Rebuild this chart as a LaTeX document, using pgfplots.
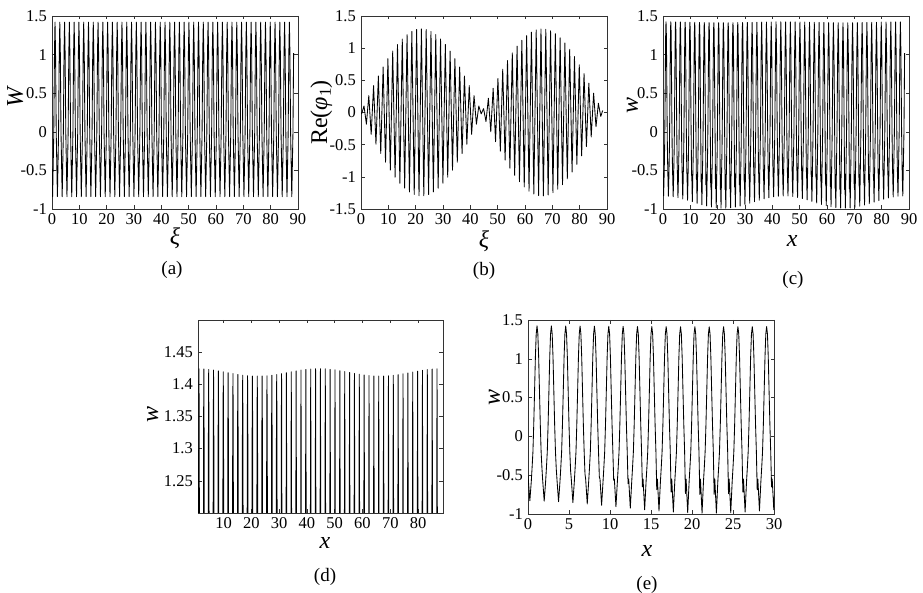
\documentclass[border=0pt]{standalone}
\usepackage{fontspec}
\setmainfont{Liberation Serif}
\usepackage{pgfplots}
\usepackage{pgfplotstable}
\pgfplotsset{compat=1.18}

\newcommand\ticksize{\fontsize{16.5bp}{18bp}\selectfont}
\newcommand\labsize{\fontsize{24bp}{26bp}\selectfont}
\newcommand\capsize{\fontsize{19bp}{21bp}\selectfont}

% Unperturbed periodic wave W(xi)
\pgfplotstableread[row sep=\\]{
x y\\
0 -0.48\\ 0.225 -0.84\\ 0.65 -0.02\\ 0.9 1.02\\
1.1 1.42\\ 1.3 1.02\\ 1.55 -0.02\\ 1.975 -0.84\\ 2.4 -0.02\\ 2.65 1.02\\
2.85 1.42\\ 3.05 1.02\\ 3.3 -0.02\\ 3.725 -0.84\\ 4.15 -0.02\\ 4.4 1.02\\
4.6 1.42\\ 4.8 1.02\\ 5.05 -0.02\\ 5.475 -0.84\\ 5.9 -0.02\\ 6.15 1.02\\
6.35 1.42\\ 6.55 1.02\\ 6.8 -0.02\\ 7.225 -0.84\\ 7.65 -0.02\\ 7.9 1.02\\
8.1 1.42\\ 8.3 1.02\\ 8.55 -0.02\\ 8.975 -0.84\\ 9.4 -0.02\\ 9.65 1.02\\
9.85 1.42\\ 10.05 1.02\\ 10.3 -0.02\\ 10.725 -0.84\\ 11.15 -0.02\\ 11.4 1.02\\
11.6 1.42\\ 11.8 1.02\\ 12.05 -0.02\\ 12.475 -0.84\\ 12.9 -0.02\\ 13.15 1.02\\
13.35 1.42\\ 13.55 1.02\\ 13.8 -0.02\\ 14.225 -0.84\\ 14.65 -0.02\\ 14.9 1.02\\
15.1 1.42\\ 15.3 1.02\\ 15.55 -0.02\\ 15.975 -0.84\\ 16.4 -0.02\\ 16.65 1.02\\
16.85 1.42\\ 17.05 1.02\\ 17.3 -0.02\\ 17.725 -0.84\\ 18.15 -0.02\\ 18.4 1.02\\
18.6 1.42\\ 18.8 1.02\\ 19.05 -0.02\\ 19.475 -0.84\\ 19.9 -0.02\\ 20.15 1.02\\
20.35 1.42\\ 20.55 1.02\\ 20.8 -0.02\\ 21.225 -0.84\\ 21.65 -0.02\\ 21.9 1.02\\
22.1 1.42\\ 22.3 1.02\\ 22.55 -0.02\\ 22.975 -0.84\\ 23.4 -0.02\\ 23.65 1.02\\
23.85 1.42\\ 24.05 1.02\\ 24.3 -0.02\\ 24.725 -0.84\\ 25.15 -0.02\\ 25.4 1.02\\
25.6 1.42\\ 25.8 1.02\\ 26.05 -0.02\\ 26.475 -0.84\\ 26.9 -0.02\\ 27.15 1.02\\
27.35 1.42\\ 27.55 1.02\\ 27.8 -0.02\\ 28.225 -0.84\\ 28.65 -0.02\\ 28.9 1.02\\
29.1 1.42\\ 29.3 1.02\\ 29.55 -0.02\\ 29.975 -0.84\\ 30.4 -0.02\\ 30.65 1.02\\
30.85 1.42\\ 31.05 1.02\\ 31.3 -0.02\\ 31.725 -0.84\\ 32.15 -0.02\\ 32.4 1.02\\
32.6 1.42\\ 32.8 1.02\\ 33.05 -0.02\\ 33.475 -0.84\\ 33.9 -0.02\\ 34.15 1.02\\
34.35 1.42\\ 34.55 1.02\\ 34.8 -0.02\\ 35.225 -0.84\\ 35.65 -0.02\\ 35.9 1.02\\
36.1 1.42\\ 36.3 1.02\\ 36.55 -0.02\\ 36.975 -0.84\\ 37.4 -0.02\\ 37.65 1.02\\
37.85 1.42\\ 38.05 1.02\\ 38.3 -0.02\\ 38.725 -0.84\\ 39.15 -0.02\\ 39.4 1.02\\
39.6 1.42\\ 39.8 1.02\\ 40.05 -0.02\\ 40.475 -0.84\\ 40.9 -0.02\\ 41.15 1.02\\
41.35 1.42\\ 41.55 1.02\\ 41.8 -0.02\\ 42.225 -0.84\\ 42.65 -0.02\\ 42.9 1.02\\
43.1 1.42\\ 43.3 1.02\\ 43.55 -0.02\\ 43.975 -0.84\\ 44.4 -0.02\\ 44.65 1.02\\
44.85 1.42\\ 45.05 1.02\\ 45.3 -0.02\\ 45.725 -0.84\\ 46.15 -0.02\\ 46.4 1.02\\
46.6 1.42\\ 46.8 1.02\\ 47.05 -0.02\\ 47.475 -0.84\\ 47.9 -0.02\\ 48.15 1.02\\
48.35 1.42\\ 48.55 1.02\\ 48.8 -0.02\\ 49.225 -0.84\\ 49.65 -0.02\\ 49.9 1.02\\
50.1 1.42\\ 50.3 1.02\\ 50.55 -0.02\\ 50.975 -0.84\\ 51.4 -0.02\\ 51.65 1.02\\
51.85 1.42\\ 52.05 1.02\\ 52.3 -0.02\\ 52.725 -0.84\\ 53.15 -0.02\\ 53.4 1.02\\
53.6 1.42\\ 53.8 1.02\\ 54.05 -0.02\\ 54.475 -0.84\\ 54.9 -0.02\\ 55.15 1.02\\
55.35 1.42\\ 55.55 1.02\\ 55.8 -0.02\\ 56.225 -0.84\\ 56.65 -0.02\\ 56.9 1.02\\
57.1 1.42\\ 57.3 1.02\\ 57.55 -0.02\\ 57.975 -0.84\\ 58.4 -0.02\\ 58.65 1.02\\
58.85 1.42\\ 59.05 1.02\\ 59.3 -0.02\\ 59.725 -0.84\\ 60.15 -0.02\\ 60.4 1.02\\
60.6 1.42\\ 60.8 1.02\\ 61.05 -0.02\\ 61.475 -0.84\\ 61.9 -0.02\\ 62.15 1.02\\
62.35 1.42\\ 62.55 1.02\\ 62.8 -0.02\\ 63.225 -0.84\\ 63.65 -0.02\\ 63.9 1.02\\
64.1 1.42\\ 64.3 1.02\\ 64.55 -0.02\\ 64.975 -0.84\\ 65.4 -0.02\\ 65.65 1.02\\
65.85 1.42\\ 66.05 1.02\\ 66.3 -0.02\\ 66.725 -0.84\\ 67.15 -0.02\\ 67.4 1.02\\
67.6 1.42\\ 67.8 1.02\\ 68.05 -0.02\\ 68.475 -0.84\\ 68.9 -0.02\\ 69.15 1.02\\
69.35 1.42\\ 69.55 1.02\\ 69.8 -0.02\\ 70.225 -0.84\\ 70.65 -0.02\\ 70.9 1.02\\
71.1 1.42\\ 71.3 1.02\\ 71.55 -0.02\\ 71.975 -0.84\\ 72.4 -0.02\\ 72.65 1.02\\
72.85 1.42\\ 73.05 1.02\\ 73.3 -0.02\\ 73.725 -0.84\\ 74.15 -0.02\\ 74.4 1.02\\
74.6 1.42\\ 74.8 1.02\\ 75.05 -0.02\\ 75.475 -0.84\\ 75.9 -0.02\\ 76.15 1.02\\
76.35 1.42\\ 76.55 1.02\\ 76.8 -0.02\\ 77.225 -0.84\\ 77.65 -0.02\\ 77.9 1.02\\
78.1 1.42\\ 78.3 1.02\\ 78.55 -0.02\\ 78.975 -0.84\\ 79.4 -0.02\\ 79.65 1.02\\
79.85 1.42\\ 80.05 1.02\\ 80.3 -0.02\\ 80.725 -0.84\\ 81.15 -0.02\\ 81.4 1.02\\
81.6 1.42\\ 81.8 1.02\\ 82.05 -0.02\\ 82.475 -0.84\\ 82.9 -0.02\\ 83.15 1.02\\
83.35 1.42\\ 83.55 1.02\\ 83.8 -0.02\\ 84.225 -0.84\\ 84.65 -0.02\\ 84.9 1.02\\
85.1 1.42\\ 85.3 1.02\\ 85.55 -0.02\\ 85.975 -0.84\\ 86.4 -0.02\\ 86.65 1.02\\
86.85 1.42\\ 87.05 1.02\\ 87.3 -0.02\\ 87.725 -0.84\\ 88.15 -0.02\\ 88.4 1.02\\
}\Wdata

% First-order correction Re(phi_1): maxima and minima of each period
\pgfplotstableread[row sep=\\]{
x y\\
0 0\\ 0.225 -0.02\\
1.1 0.102\\ 1.975 -0.182\\ 2.85 0.262\\ 3.725 -0.340\\ 4.6 0.418\\ 5.475 -0.493\\
6.35 0.567\\ 7.225 -0.638\\ 8.1 0.708\\ 8.975 -0.773\\ 9.85 0.837\\ 10.725 -0.896\\
11.6 0.955\\ 12.475 -1.006\\ 13.35 1.057\\ 14.225 -1.100\\ 15.1 1.142\\ 15.975 -1.176\\
16.85 1.210\\ 17.725 -1.235\\ 18.6 1.260\\ 19.475 -1.275\\ 20.35 1.290\\ 21.225 -1.295\\
22.1 1.300\\ 22.975 -1.295\\ 23.85 1.290\\ 24.725 -1.275\\ 25.6 1.260\\ 26.475 -1.235\\
27.35 1.210\\ 28.225 -1.177\\ 29.1 1.143\\ 29.975 -1.100\\ 30.85 1.057\\ 31.725 -1.006\\
32.6 0.955\\ 33.475 -0.897\\ 34.35 0.838\\ 35.225 -0.773\\ 36.1 0.708\\ 36.975 -0.638\\
37.85 0.567\\ 38.725 -0.493\\ 39.6 0.418\\ 40.475 -0.340\\ 41.35 0.262\\ 42.225 -0.182\\
43.1 0.101\\ 43.975 -0.021\\ 44.85 0.060\\ 45.725 -0.141\\ 46.6 0.221\\ 47.475 -0.300\\
48.35 0.378\\ 49.225 -0.454\\ 50.1 0.529\\ 50.975 -0.601\\ 51.85 0.673\\ 52.725 -0.740\\
53.6 0.806\\ 54.475 -0.866\\ 55.35 0.926\\ 56.225 -0.979\\ 57.1 1.032\\ 57.975 -1.077\\
58.85 1.122\\ 59.725 -1.159\\ 60.6 1.195\\ 61.475 -1.222\\ 62.35 1.249\\ 63.225 -1.267\\
64.1 1.284\\ 64.975 -1.292\\ 65.85 1.299\\ 66.725 -1.297\\ 67.6 1.294\\ 68.475 -1.282\\
69.35 1.269\\ 70.225 -1.247\\ 71.1 1.225\\ 71.975 -1.193\\ 72.85 1.161\\ 73.725 -1.121\\
74.6 1.080\\ 75.475 -1.031\\ 76.35 0.982\\ 77.225 -0.926\\ 78.1 0.869\\ 78.975 -0.806\\
79.85 0.743\\ 80.725 -0.674\\ 81.6 0.604\\ 82.475 -0.530\\ 83.35 0.456\\ 84.225 -0.379\\
85.1 0.301\\ 85.975 -0.222\\ 86.85 0.143\\ 87.725 -0.062\\ 88.4 0.03\\
}\Phidata

% Perturbed wave w(x): finely sampled up to x = 30.75, coarser beyond
\pgfplotstableread[row sep=\\]{
x y\\
0 -0.50\\ 0.225 -0.83\\ 0.4 -0.58\\ 0.5 -0.40\\ 0.6 -0.20\\ 0.7 0.15\\ 0.8 0.58\\ 0.9 1.02\\ 1.0 1.32\\
1.1 1.4242\\ 1.2 1.32\\ 1.3 1.02\\ 1.4 0.58\\ 1.5 0.15\\ 1.6 -0.20\\ 1.7 -0.408\\ 1.78 -0.55\\ 1.975 -0.834\\ 2.15 -0.58\\ 2.25 -0.40\\ 2.35 -0.20\\ 2.45 0.15\\ 2.55 0.58\\ 2.65 1.02\\ 2.75 1.32\\
2.85 1.4238\\ 2.95 1.32\\ 3.05 1.02\\ 3.15 0.58\\ 3.25 0.15\\ 3.35 -0.20\\ 3.45 -0.425\\ 3.53 -0.55\\ 3.725 -0.842\\ 3.9 -0.58\\ 4.0 -0.40\\ 4.1 -0.20\\ 4.2 0.15\\ 4.3 0.58\\ 4.4 1.02\\ 4.5 1.32\\
4.6 1.4231\\ 4.7 1.32\\ 4.8 1.02\\ 4.9 0.58\\ 5.0 0.15\\ 5.1 -0.20\\ 5.2 -0.451\\ 5.28 -0.55\\ 5.475 -0.853\\ 5.65 -0.58\\ 5.75 -0.40\\ 5.85 -0.20\\ 5.95 0.15\\ 6.05 0.58\\ 6.15 1.02\\ 6.25 1.32\\
6.35 1.4221\\ 6.45 1.32\\ 6.55 1.02\\ 6.65 0.58\\ 6.75 0.15\\ 6.85 -0.20\\ 6.95 -0.485\\ 7.03 -0.55\\ 7.225 -0.869\\ 7.4 -0.58\\ 7.5 -0.40\\ 7.6 -0.20\\ 7.7 0.15\\ 7.8 0.58\\ 7.9 1.02\\ 8.0 1.32\\
8.1 1.4209\\ 8.2 1.32\\ 8.3 1.02\\ 8.4 0.58\\ 8.5 0.15\\ 8.6 -0.20\\ 8.7 -0.524\\ 8.78 -0.55\\ 8.975 -0.887\\ 9.15 -0.58\\ 9.25 -0.40\\ 9.35 -0.20\\ 9.45 0.15\\ 9.55 0.58\\ 9.65 1.02\\ 9.75 1.32\\
9.85 1.4195\\ 9.95 1.32\\ 10.05 1.02\\ 10.15 0.58\\ 10.25 0.15\\ 10.35 -0.20\\ 10.45 -0.567\\ 10.53 -0.55\\ 10.725 -0.906\\ 10.9 -0.58\\ 11.0 -0.40\\ 11.1 -0.20\\ 11.2 0.15\\ 11.3 0.58\\ 11.4 1.02\\ 11.5 1.32\\
11.6 1.4180\\ 11.7 1.32\\ 11.8 1.02\\ 11.9 0.58\\ 12.0 0.15\\ 12.1 -0.20\\ 12.2 -0.610\\ 12.28 -0.55\\ 12.475 -0.926\\ 12.65 -0.58\\ 12.75 -0.40\\ 12.85 -0.20\\ 12.95 0.15\\ 13.05 0.58\\ 13.15 1.02\\ 13.25 1.32\\
13.35 1.4166\\ 13.45 1.32\\ 13.55 1.02\\ 13.65 0.58\\ 13.75 0.15\\ 13.85 -0.20\\ 13.95 -0.651\\ 14.03 -0.55\\ 14.225 -0.945\\ 14.4 -0.58\\ 14.5 -0.40\\ 14.6 -0.20\\ 14.7 0.15\\ 14.8 0.58\\ 14.9 1.02\\ 15.0 1.32\\
15.1 1.4153\\ 15.2 1.32\\ 15.3 1.02\\ 15.4 0.58\\ 15.5 0.15\\ 15.6 -0.20\\ 15.7 -0.687\\ 15.78 -0.55\\ 15.975 -0.961\\ 16.15 -0.58\\ 16.25 -0.40\\ 16.35 -0.20\\ 16.45 0.15\\ 16.55 0.58\\ 16.65 1.02\\ 16.75 1.32\\
16.85 1.4142\\ 16.95 1.32\\ 17.05 1.02\\ 17.15 0.58\\ 17.25 0.15\\ 17.35 -0.20\\ 17.45 -0.716\\ 17.53 -0.55\\ 17.725 -0.975\\ 17.9 -0.58\\ 18.0 -0.40\\ 18.1 -0.20\\ 18.2 0.15\\ 18.3 0.58\\ 18.4 1.02\\ 18.5 1.32\\
18.6 1.4134\\ 18.7 1.32\\ 18.8 1.02\\ 18.9 0.58\\ 19.0 0.15\\ 19.1 -0.20\\ 19.2 -0.737\\ 19.28 -0.55\\ 19.475 -0.984\\ 19.65 -0.58\\ 19.75 -0.40\\ 19.85 -0.20\\ 19.95 0.15\\ 20.05 0.58\\ 20.15 1.02\\ 20.25 1.32\\
20.35 1.4129\\ 20.45 1.32\\ 20.55 1.02\\ 20.65 0.58\\ 20.75 0.15\\ 20.85 -0.20\\ 20.95 -0.747\\ 21.03 -0.55\\ 21.225 -0.989\\ 21.4 -0.58\\ 21.5 -0.40\\ 21.6 -0.20\\ 21.7 0.15\\ 21.8 0.58\\ 21.9 1.02\\ 22.0 1.32\\
22.1 1.4127\\ 22.2 1.32\\ 22.3 1.02\\ 22.4 0.58\\ 22.5 0.15\\ 22.6 -0.20\\ 22.7 -0.747\\ 22.78 -0.55\\ 22.975 -0.989\\ 23.15 -0.58\\ 23.25 -0.40\\ 23.35 -0.20\\ 23.45 0.15\\ 23.55 0.58\\ 23.65 1.02\\ 23.75 1.32\\
23.85 1.4129\\ 23.95 1.32\\ 24.05 1.02\\ 24.15 0.58\\ 24.25 0.15\\ 24.35 -0.20\\ 24.45 -0.737\\ 24.53 -0.55\\ 24.725 -0.984\\ 24.9 -0.58\\ 25.0 -0.40\\ 25.1 -0.20\\ 25.2 0.15\\ 25.3 0.58\\ 25.4 1.02\\ 25.5 1.32\\
25.6 1.4134\\ 25.7 1.32\\ 25.8 1.02\\ 25.9 0.58\\ 26.0 0.15\\ 26.1 -0.20\\ 26.2 -0.716\\ 26.28 -0.55\\ 26.475 -0.975\\ 26.65 -0.58\\ 26.75 -0.40\\ 26.85 -0.20\\ 26.95 0.15\\ 27.05 0.58\\ 27.15 1.02\\ 27.25 1.32\\
27.35 1.4142\\ 27.45 1.32\\ 27.55 1.02\\ 27.65 0.58\\ 27.75 0.15\\ 27.85 -0.20\\ 27.95 -0.687\\ 28.03 -0.55\\ 28.225 -0.961\\ 28.4 -0.58\\ 28.5 -0.40\\ 28.6 -0.20\\ 28.7 0.15\\ 28.8 0.58\\ 28.9 1.02\\ 29.0 1.32\\
29.1 1.4153\\ 29.2 1.32\\ 29.3 1.02\\ 29.4 0.58\\ 29.5 0.15\\ 29.6 -0.20\\ 29.7 -0.651\\ 29.78 -0.55\\ 29.975 -0.945\\ 30.15 -0.58\\ 30.25 -0.40\\ 30.35 -0.20\\ 30.45 0.15\\ 30.55 0.58\\ 30.65 1.02\\ 30.75 1.32\\
30.85 1.4166\\ 31.05 1.02\\ 31.3 -0.02\\ 31.45 -0.610\\ 31.53 -0.55\\ 31.725 -0.926\\ 32.15 -0.02\\ 32.4 1.02\\
32.6 1.4180\\ 32.8 1.02\\ 33.05 -0.02\\ 33.2 -0.567\\ 33.28 -0.55\\ 33.475 -0.906\\ 33.9 -0.02\\ 34.15 1.02\\
34.35 1.4195\\ 34.55 1.02\\ 34.8 -0.02\\ 34.95 -0.525\\ 35.03 -0.55\\ 35.225 -0.887\\ 35.65 -0.02\\ 35.9 1.02\\
36.1 1.4209\\ 36.3 1.02\\ 36.55 -0.02\\ 36.7 -0.485\\ 36.78 -0.55\\ 36.975 -0.869\\ 37.4 -0.02\\ 37.65 1.02\\
37.85 1.4221\\ 38.05 1.02\\ 38.3 -0.02\\ 38.45 -0.451\\ 38.53 -0.55\\ 38.725 -0.854\\ 39.15 -0.02\\ 39.4 1.02\\
39.6 1.4231\\ 39.8 1.02\\ 40.05 -0.02\\ 40.2 -0.425\\ 40.28 -0.55\\ 40.475 -0.842\\ 40.9 -0.02\\ 41.15 1.02\\
41.35 1.4238\\ 41.55 1.02\\ 41.8 -0.02\\ 41.95 -0.408\\ 42.03 -0.55\\ 42.225 -0.834\\ 42.65 -0.02\\ 42.9 1.02\\
43.1 1.4242\\ 43.3 1.02\\ 43.55 -0.02\\ 43.7 -0.401\\ 43.78 -0.55\\ 43.975 -0.831\\ 44.4 -0.02\\ 44.65 1.02\\
44.85 1.4243\\ 45.05 1.02\\ 45.3 -0.02\\ 45.45 -0.405\\ 45.53 -0.55\\ 45.725 -0.832\\ 46.15 -0.02\\ 46.4 1.02\\
46.6 1.4240\\ 46.8 1.02\\ 47.05 -0.02\\ 47.2 -0.420\\ 47.28 -0.55\\ 47.475 -0.839\\ 47.9 -0.02\\ 48.15 1.02\\
48.35 1.4233\\ 48.55 1.02\\ 48.8 -0.02\\ 48.95 -0.444\\ 49.03 -0.55\\ 49.225 -0.850\\ 49.65 -0.02\\ 49.9 1.02\\
50.1 1.4224\\ 50.3 1.02\\ 50.55 -0.02\\ 50.7 -0.476\\ 50.78 -0.55\\ 50.975 -0.865\\ 51.4 -0.02\\ 51.65 1.02\\
51.85 1.4212\\ 52.05 1.02\\ 52.3 -0.02\\ 52.45 -0.514\\ 52.53 -0.55\\ 52.725 -0.882\\ 53.15 -0.02\\ 53.4 1.02\\
53.6 1.4198\\ 53.8 1.02\\ 54.05 -0.02\\ 54.2 -0.556\\ 54.28 -0.55\\ 54.475 -0.901\\ 54.9 -0.02\\ 55.15 1.02\\
55.35 1.4184\\ 55.55 1.02\\ 55.8 -0.02\\ 55.95 -0.599\\ 56.03 -0.55\\ 56.225 -0.921\\ 56.65 -0.02\\ 56.9 1.02\\
57.1 1.4170\\ 57.3 1.02\\ 57.55 -0.02\\ 57.7 -0.641\\ 57.78 -0.55\\ 57.975 -0.940\\ 58.4 -0.02\\ 58.65 1.02\\
58.85 1.4157\\ 59.05 1.02\\ 59.3 -0.02\\ 59.45 -0.678\\ 59.53 -0.55\\ 59.725 -0.957\\ 60.15 -0.02\\ 60.4 1.02\\
60.6 1.4145\\ 60.8 1.02\\ 61.05 -0.02\\ 61.2 -0.709\\ 61.28 -0.55\\ 61.475 -0.971\\ 61.9 -0.02\\ 62.15 1.02\\
62.35 1.4136\\ 62.55 1.02\\ 62.8 -0.02\\ 62.95 -0.732\\ 63.03 -0.55\\ 63.225 -0.982\\ 63.65 -0.02\\ 63.9 1.02\\
64.1 1.4130\\ 64.3 1.02\\ 64.55 -0.02\\ 64.7 -0.746\\ 64.78 -0.55\\ 64.975 -0.988\\ 65.4 -0.02\\ 65.65 1.02\\
65.85 1.4127\\ 66.05 1.02\\ 66.3 -0.02\\ 66.45 -0.748\\ 66.53 -0.55\\ 66.725 -0.989\\ 67.15 -0.02\\ 67.4 1.02\\
67.6 1.4128\\ 67.8 1.02\\ 68.05 -0.02\\ 68.2 -0.740\\ 68.28 -0.55\\ 68.475 -0.986\\ 68.9 -0.02\\ 69.15 1.02\\
69.35 1.4132\\ 69.55 1.02\\ 69.8 -0.02\\ 69.95 -0.722\\ 70.03 -0.55\\ 70.225 -0.977\\ 70.65 -0.02\\ 70.9 1.02\\
71.1 1.4140\\ 71.3 1.02\\ 71.55 -0.02\\ 71.7 -0.695\\ 71.78 -0.55\\ 71.975 -0.965\\ 72.4 -0.02\\ 72.65 1.02\\
72.85 1.4150\\ 73.05 1.02\\ 73.3 -0.02\\ 73.45 -0.660\\ 73.53 -0.55\\ 73.725 -0.949\\ 74.15 -0.02\\ 74.4 1.02\\
74.6 1.4163\\ 74.8 1.02\\ 75.05 -0.02\\ 75.2 -0.621\\ 75.28 -0.55\\ 75.475 -0.931\\ 75.9 -0.02\\ 76.15 1.02\\
76.35 1.4177\\ 76.55 1.02\\ 76.8 -0.02\\ 76.95 -0.578\\ 77.03 -0.55\\ 77.225 -0.911\\ 77.65 -0.02\\ 77.9 1.02\\
78.1 1.4191\\ 78.3 1.02\\ 78.55 -0.02\\ 78.7 -0.535\\ 78.78 -0.55\\ 78.975 -0.892\\ 79.4 -0.02\\ 79.65 1.02\\
79.85 1.4205\\ 80.05 1.02\\ 80.3 -0.02\\ 80.45 -0.495\\ 80.53 -0.55\\ 80.725 -0.873\\ 81.15 -0.02\\ 81.4 1.02\\
81.6 1.4218\\ 81.8 1.02\\ 82.05 -0.02\\ 82.2 -0.459\\ 82.28 -0.55\\ 82.475 -0.857\\ 82.9 -0.02\\ 83.15 1.02\\
83.35 1.4229\\ 83.55 1.02\\ 83.8 -0.02\\ 83.95 -0.431\\ 84.03 -0.55\\ 84.225 -0.844\\ 84.65 -0.02\\ 84.9 1.02\\
85.1 1.4237\\ 85.3 1.02\\ 85.55 -0.02\\ 85.7 -0.412\\ 85.78 -0.55\\ 85.975 -0.835\\ 86.4 -0.02\\ 86.65 1.02\\
86.85 1.4242\\ 87.05 1.02\\ 87.3 -0.02\\ 87.45 -0.401\\ 87.53 -0.55\\ 87.725 -0.830\\ 88.15 -0.02\\ 88.4 1.02\\
}\wdata

\pgfplotsset{
  panel/.style={
    scale only axis, width=246bp, height=193bp,
    axis line style={line width=0.6bp, black!80},
    tick align=inside, tick pos=both,
    major tick length=3.5bp,
    every tick/.style={line width=0.5bp, black!80},
    tick label style={font=\ticksize, inner sep=0pt},
    xticklabel style={yshift=-4bp},
    yticklabel style={xshift=-5bp},
    /pgf/number format/assume math mode=true,
    label style={font=\labsize, inner sep=0pt},
    xlabel style={anchor=north},
    ylabel style={anchor=base},
  },
  curve/.style={black, line width=0.85bp, mark=none, line join=round},
}

\begin{document}
\begin{tikzpicture}
\path[use as bounding box] (0,0) rectangle (923bp,593bp);

% (a) W
\begin{axis}[panel, at={(52bp,384bp)}, anchor=south west,
  xmin=0, xmax=90, ymin=-1, ymax=1.5,
  xtick={0,10,...,90}, ytick={-1,-0.5,0,0.5,1,1.5},
  xlabel={\textit{ξ}}, ylabel={\textit{W}},
  xlabel style={at={(axis description cs:0.5,-0.098)}},
  ylabel style={at={(axis description cs:-0.118,0.58)}}]
\addplot[curve] table {\Wdata};
\end{axis}

% (b) Re(phi_1)
\begin{axis}[panel, at={(361bp,384bp)}, anchor=south west,
  xmin=0, xmax=90, ymin=-1.5, ymax=1.5,
  xtick={0,10,...,90}, ytick={-1.5,-1,-0.5,0,0.5,1,1.5},
  xlabel={\textit{ξ}}, ylabel={Re(\textit{φ}\textsubscript{1})},
  xlabel style={at={(axis description cs:0.5,-0.109)}},
  ylabel style={at={(axis description cs:-0.138,0.5)}}]
\addplot[curve] table {\Phidata};
\end{axis}

% (c) w
\begin{axis}[panel, at={(663bp,384bp)}, anchor=south west,
  xmin=0, xmax=90, ymin=-1, ymax=1.5,
  xtick={0,10,...,90}, ytick={-1,-0.5,0,0.5,1,1.5},
  xlabel={\textit{x}}, ylabel={\textit{w}},
  xlabel style={at={(axis description cs:0.525,-0.135)}},
  ylabel style={at={(axis description cs:-0.102,0.534)}}]
\addplot[curve] table {\wdata};
\end{axis}

% (d) crests of w
\begin{axis}[panel, width=245bp, at={(198bp,80bp)}, anchor=south west,
  xmin=0.75, xmax=89, ymin=1.2, ymax=1.5,
  xtick={10,20,...,80}, ytick={1.25,1.3,1.35,1.4,1.45},
  xlabel={\textit{x}}, ylabel={\textit{w}},
  xlabel style={at={(axis description cs:0.518,-0.124)}},
  ylabel style={at={(axis description cs:-0.163,0.51)}}]
\addplot[curve] table {\wdata};
\end{axis}

% (e) w on 0 <= x <= 30
\begin{axis}[panel, height=194bp, at={(528bp,79bp)}, anchor=south west,
  xmin=0, xmax=30, ymin=-1, ymax=1.5,
  xtick={0,5,...,30}, ytick={-1,-0.5,0,0.5,1,1.5},
  xlabel={\textit{x}}, ylabel={\textit{w}},
  xlabel style={at={(axis description cs:0.484,-0.16)}},
  ylabel style={at={(axis description cs:-0.114,0.603)}}]
\addplot[curve] table {\wdata};
\end{axis}

\node[font=\capsize, inner sep=0pt] at (172bp,323bp) {(a)};
\node[font=\capsize, inner sep=0pt] at (484bp,322bp) {(b)};
\node[font=\capsize, inner sep=0pt] at (793bp,313bp) {(c)};
\node[font=\capsize, inner sep=0pt] at (325bp,16bp) {(d)};
\node[font=\capsize, inner sep=0pt] at (647bp,8bp) {(e)};
\end{tikzpicture}
\end{document}
